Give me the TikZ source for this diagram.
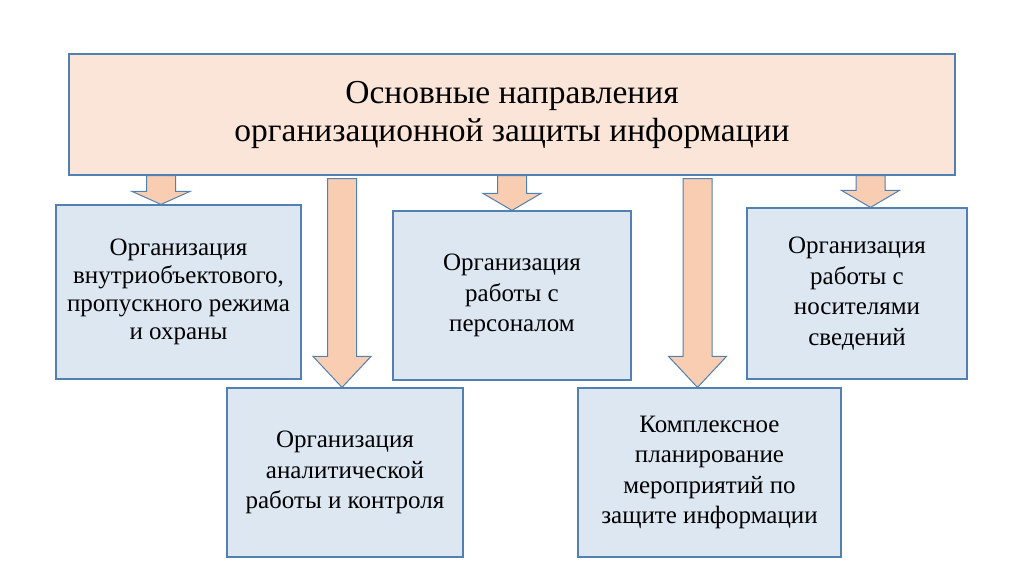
\documentclass[tikz,border=0pt]{standalone}
\usepackage{fontspec}
\setmainfont{Liberation Serif}
\usetikzlibrary{calc}

\definecolor{framecol}{RGB}{82,128,176}
\definecolor{headfill}{RGB}{251,229,216}
\definecolor{arrowfill}{RGB}{248,205,178}
\definecolor{boxfill}{RGB}{221,231,242}

\tikzset{
  headbox/.style={draw=framecol, fill=headfill, line width=1.2pt, align=center,
    font=\fontsize{33.5}{38}\selectfont},
  dirbox/.style={draw=framecol, fill=boxfill, line width=1.2pt, align=center,
    font=\fontsize{25}{30.5}\selectfont},
  arrowbody/.style={draw=framecol, fill=arrowfill, line width=1pt, line join=miter}
}

% block arrow: centre, start, end node anchor, gap at start, head length
\newcommand{\blockarrow}[5]{%
  \draw[arrowbody] ($(#1 |- #2)+(-14.5,#4)$) -- ($(#1 |- #3)+(-14.5,-#5)$)
    -- ($(#1 |- #3)+(-29,-#5)$) -- (#1 |- #3) -- ($(#1 |- #3)+(29,-#5)$)
    -- ($(#1 |- #3)+(14.5,-#5)$) -- ($(#1 |- #2)+(14.5,#4)$) -- cycle;}

\begin{document}
\begin{tikzpicture}[x=1pt, y=-1pt]
    \useasboundingbox (0,0) rectangle (1024,574);

    % Arrow centres
    \coordinate (c1) at (161,0);
    \coordinate (c2) at (342,0);
    \coordinate (c3) at (512,0);
    \coordinate (c4) at (697.5,0);
    \coordinate (c5) at (870.5,0);

    % Directions (lower row first, arrows pass over the upper row)
    \node[dirbox, minimum width=236, minimum height=169] (analysis) at (345,472.5)
        {Организация\\аналитической\\работы и контроля};
    \node[dirbox, minimum width=263, minimum height=169] (planning) at (709.5,472.5)
        {Комплексное\\планирование\\мероприятий по\\защите информации};
    \node[dirbox, minimum width=245, minimum height=174,
        font=\fontsize{25}{28}\selectfont] (access) at (178.5,292)
        {Организация\\внутриобъектового,\\пропускного режима\\и охраны};
    \node[dirbox, minimum width=238, minimum height=169] (staff) at (512,295.5)
        {Организация\\работы с\\персоналом};
    \node[dirbox, minimum width=220, minimum height=171] (media) at (857,293.5)
        {Организация\\работы с\\носителями\\сведений};

    % Title
    \node[headbox, minimum width=886, minimum height=121] (title) at (512,114.5)
        {Основные направления\\организационной защиты информации};

    % Arrows
    \blockarrow{c1}{title.south}{access.north}{0}{13}
    \blockarrow{c2}{title.south}{analysis.north}{3}{31}
    \blockarrow{c3}{title.south}{staff.north}{0}{17}
    \blockarrow{c4}{title.south}{planning.north}{3}{31}
    \blockarrow{c5}{title.south}{media.north}{0}{17}
\end{tikzpicture}
\end{document}
